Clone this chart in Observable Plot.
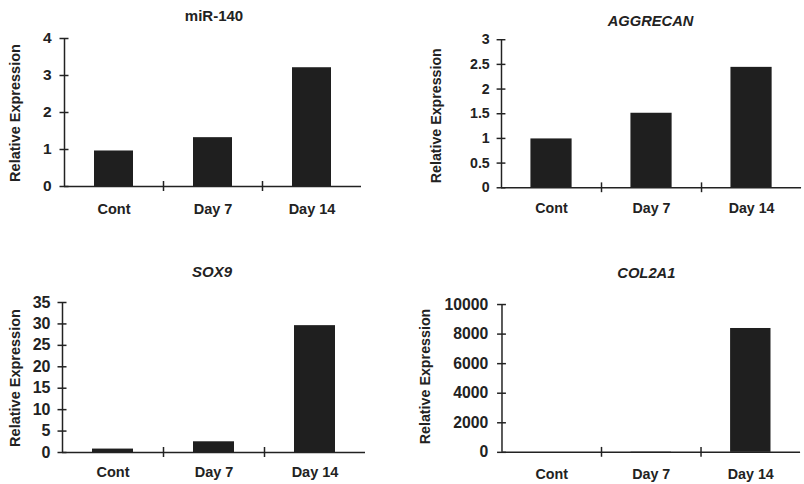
<!DOCTYPE html>
<html>
<head>
<meta charset="utf-8">
<script src="https://cdn.jsdelivr.net/npm/d3@7"></script>
<script src="https://cdn.jsdelivr.net/npm/@observablehq/plot@0.6"></script>
<style>
  html, body { margin: 0; padding: 0; background: #fff; }
  body { width: 804px; height: 484px; overflow: hidden; position: relative; font-family: "Liberation Sans", Arial, sans-serif; }
  .panel { position: absolute; }
  .panel svg { overflow: visible; }
</style>
</head>
<body>
<div id="p1" class="panel" style="left:0px;top:0px"></div>
<div id="p2" class="panel" style="left:400px;top:0px"></div>
<div id="p3" class="panel" style="left:0px;top:240px"></div>
<div id="p4" class="panel" style="left:400px;top:240px"></div>
<script>
// ---- data ----
const categories = ["Cont", "Day 7", "Day 14"];
const mir140 = [0.96, 1.32, 3.21];
const aggrecan = [0.99, 1.51, 2.44];
const sox9 = [0.8, 2.5, 29.6];
const col2a1 = [1, 20, 8380];
const mir140Ticks = [0, 1, 2, 3, 4];
const aggrecanTicks = [0, 0.5, 1, 1.5, 2, 2.5, 3];
const sox9Ticks = [0, 5, 10, 15, 20, 25, 30, 35];
const col2a1Ticks = [0, 2000, 4000, 6000, 8000, 10000];
const titles = ["miR-140", "AGGRECAN", "SOX9", "COL2A1"];
const yLabel = "Relative Expression";

const INK = "#222";

function panel(cfg) {
  const data = categories.map((c, i) => ({cat: c, value: cfg.values[i]}));
  const step = (cfg.width - cfg.ml - cfg.mr) / categories.length;
  const frameMidY = (cfg.mt + cfg.height - cfg.mb) / 2;
  const bottomY = cfg.height - cfg.mb;
  const chart = Plot.plot({
    width: cfg.width,
    height: cfg.height,
    marginLeft: cfg.ml,
    marginRight: cfg.mr,
    marginTop: cfg.mt,
    marginBottom: cfg.mb,
    style: {fontFamily: "'Liberation Sans', Arial, sans-serif", background: "transparent", color: INK},
    x: {type: "band", domain: categories, padding: 0, axis: null},
    y: {domain: [cfg.ticks[0], cfg.ticks[cfg.ticks.length - 1]], axis: null},
    marks: [
      Plot.barY(data, {x: "cat", y: "value", fill: "#1f1f1f", insetLeft: cfg.inset, insetRight: cfg.inset}),
      Plot.ruleY([0], {stroke: INK, strokeWidth: 1.5}),
      Plot.ruleX(categories.slice(0, 1), {dx: -step / 2, stroke: INK, strokeWidth: 1.5}),
      Plot.ruleX(categories.slice(1), {dx: -step / 2, y1: 0, y2: 0, insetTop: -5, insetBottom: -5, stroke: INK, strokeWidth: 1.5}),
      Plot.axisY({ticks: cfg.ticks, tickSize: 9, dx: 4.5, tickPadding: cfg.tp, tickFormat: d => String(d),
        fontSize: cfg.tickFont, fontWeight: "bold", stroke: INK, strokeWidth: 1.5, fill: INK, label: null}),
      Plot.text(data, {x: "cat", text: "cat", frameAnchor: "bottom", dy: cfg.catY - bottomY, lineAnchor: "middle",
        fontSize: 14.5, fontWeight: "bold", fill: INK}),
      Plot.text([cfg.title], {frameAnchor: "top", dx: cfg.titleDx, dy: cfg.titleY - cfg.mt, lineAnchor: "middle",
        fontSize: 15, fontWeight: "bold", fontStyle: cfg.italic ? "italic" : "normal", fill: INK}),
      Plot.text([yLabel], {frameAnchor: "left", dx: cfg.labelX - cfg.ml, dy: cfg.labelY - frameMidY, rotate: -90,
        lineAnchor: "middle", textAnchor: "middle", fontSize: 14.5, fontWeight: "bold", fill: INK})
    ]
  });
  document.getElementById(cfg.el).appendChild(chart);
}

panel({el: "p1", title: titles[0], italic: false, values: mir140, ticks: mir140Ticks,
  width: 400, height: 240, ml: 64, mr: 39, mt: 38, mb: 54, inset: 30, tp: 8.5, tickFont: 15.5,
  titleY: 16, titleDx: 1, labelX: 15, labelY: 112.5, catY: 209});
panel({el: "p2", title: titles[1], italic: true, values: aggrecan, ticks: aggrecanTicks,
  width: 412, height: 240, ml: 103, mr: 3, mt: 40, mb: 49, inset: 30, tp: 7.5, tickFont: 14.5,
  titleY: 21, titleDx: -1, labelX: 37, labelY: 117.5, catY: 212});
panel({el: "p3", title: titles[2], italic: true, values: sox9, ticks: sox9Ticks,
  width: 400, height: 244, ml: 62, mr: 35, mt: 62, mb: 32, inset: 30, tp: 7.5, tickFont: 16,
  titleY: 32, titleDx: -2, labelX: 15, labelY: 137.5, catY: 232});
panel({el: "p4", title: titles[3], italic: true, values: col2a1, ticks: col2a1Ticks,
  width: 410, height: 244, ml: 103, mr: 4, mt: 65, mb: 29, inset: 30, tp: 9.5, tickFont: 16,
  titleY: 33, titleDx: -5, labelX: 25, labelY: 138, catY: 237});
</script>
</body>
</html>
